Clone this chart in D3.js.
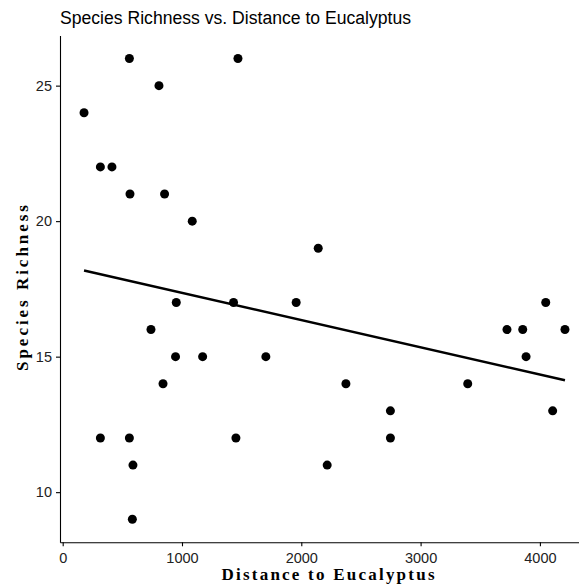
<!DOCTYPE html>
<html>
<head>
<meta charset="utf-8">
<script src="https://cdn.jsdelivr.net/npm/d3@7"></script>
<style>
  body { margin: 0; background: #fff; }
  .axis text { font-family: "Liberation Sans", Arial, sans-serif; font-size: 14.5px; fill: #222; }
  .axis path, .axis line { stroke: #000; stroke-width: 1.1px; }
</style>
</head>
<body>
<svg id="chart" width="579" height="586"></svg>
<script>
// distance to eucalyptus (x) and species richness (y)
var distance = [179, 316, 413, 316, 559, 564, 559, 589, 584, 740,
  807, 841, 854, 946, 952, 1086, 1173, 1432, 1452, 1469,
  1703, 1957, 2142, 2217, 2374, 2747, 2747, 3395, 3724, 3856,
  3884, 4049, 4107, 4210];
var richness = [24, 22, 22, 12, 26, 21, 12, 11, 9, 16,
  25, 14, 21, 15, 17, 20, 15, 17, 12, 26,
  15, 17, 19, 11, 14, 13, 12, 14, 16, 16,
  15, 17, 13, 16];
var xTicks = [0, 1000, 2000, 3000, 4000];
var yTicks = [10, 15, 20, 25];

var data = distance.map(function (d, i) { return { x: d, y: richness[i] }; });

var svg = d3.select("#chart");
var pLeft = 60, pRight = 589, pTop = 35.5, pBottom = 542.3;

// ggplot style 5% padding on the data range
var xr = d3.extent(distance), yr = d3.extent(richness);
var xPad = (xr[1] - xr[0]) * 0.05, yPad = (yr[1] - yr[0]) * 0.05;
var x = d3.scaleLinear().domain([xr[0] - xPad, xr[1] + xPad]).range([pLeft, pRight]);
var y = d3.scaleLinear().domain([yr[0] - yPad, yr[1] + yPad]).range([pBottom, pTop]);

// least squares fit
var mx = d3.mean(distance), my = d3.mean(richness);
var sxy = d3.sum(data, function (d) { return (d.x - mx) * (d.y - my); });
var sxx = d3.sum(data, function (d) { return (d.x - mx) * (d.x - mx); });
var slope = sxy / sxx, icpt = my - slope * mx;
var fit = [xr[0], xr[1]].map(function (v) { return { x: v, y: icpt + slope * v }; });

svg.append("g")
  .attr("class", "axis")
  .attr("transform", "translate(0," + pBottom + ")")
  .call(d3.axisBottom(x).tickValues(xTicks).tickFormat(d3.format("d"))
    .tickSize(4).tickSizeOuter(0).tickPadding(6));

svg.append("g")
  .attr("class", "axis")
  .attr("transform", "translate(" + pLeft + ",0)")
  .call(d3.axisLeft(y).tickValues(yTicks).tickSize(4).tickSizeOuter(0).tickPadding(4));

svg.selectAll("circle.pt")
  .data(data)
  .enter()
  .append("circle")
  .attr("class", "pt")
  .attr("cx", function (d) { return x(d.x); })
  .attr("cy", function (d) { return y(d.y); })
  .attr("r", 4.5)
  .style("fill", "#000");

var line = d3.line()
  .x(function (d) { return x(d.x); })
  .y(function (d) { return y(d.y); });

svg.append("path")
  .attr("d", line(fit))
  .style("fill", "none")
  .style("stroke", "#000")
  .style("stroke-width", 2.4);

// titles
svg.append("text")
  .attr("x", 60)
  .attr("y", 24)
  .style("font-family", "'Liberation Sans', Arial, sans-serif")
  .style("font-size", "17.6px")
  .style("fill", "#000")
  .text("Species Richness vs. Distance to Eucalyptus");

svg.append("text")
  .attr("x", 328)
  .attr("y", 580)
  .attr("text-anchor", "middle")
  .attr("textLength", 213)
  .attr("lengthAdjust", "spacing")
  .style("font-family", "'Liberation Serif', 'Times New Roman', serif")
  .style("font-weight", "bold")
  .style("font-size", "17px")
  .text("Distance to Eucalyptus");

svg.append("text")
  .attr("transform", "translate(28,288) rotate(-90)")
  .attr("text-anchor", "middle")
  .attr("textLength", 166)
  .attr("lengthAdjust", "spacing")
  .style("font-family", "'Liberation Serif', 'Times New Roman', serif")
  .style("font-weight", "bold")
  .style("font-size", "17px")
  .text("Species Richness");
</script>
</body>
</html>
